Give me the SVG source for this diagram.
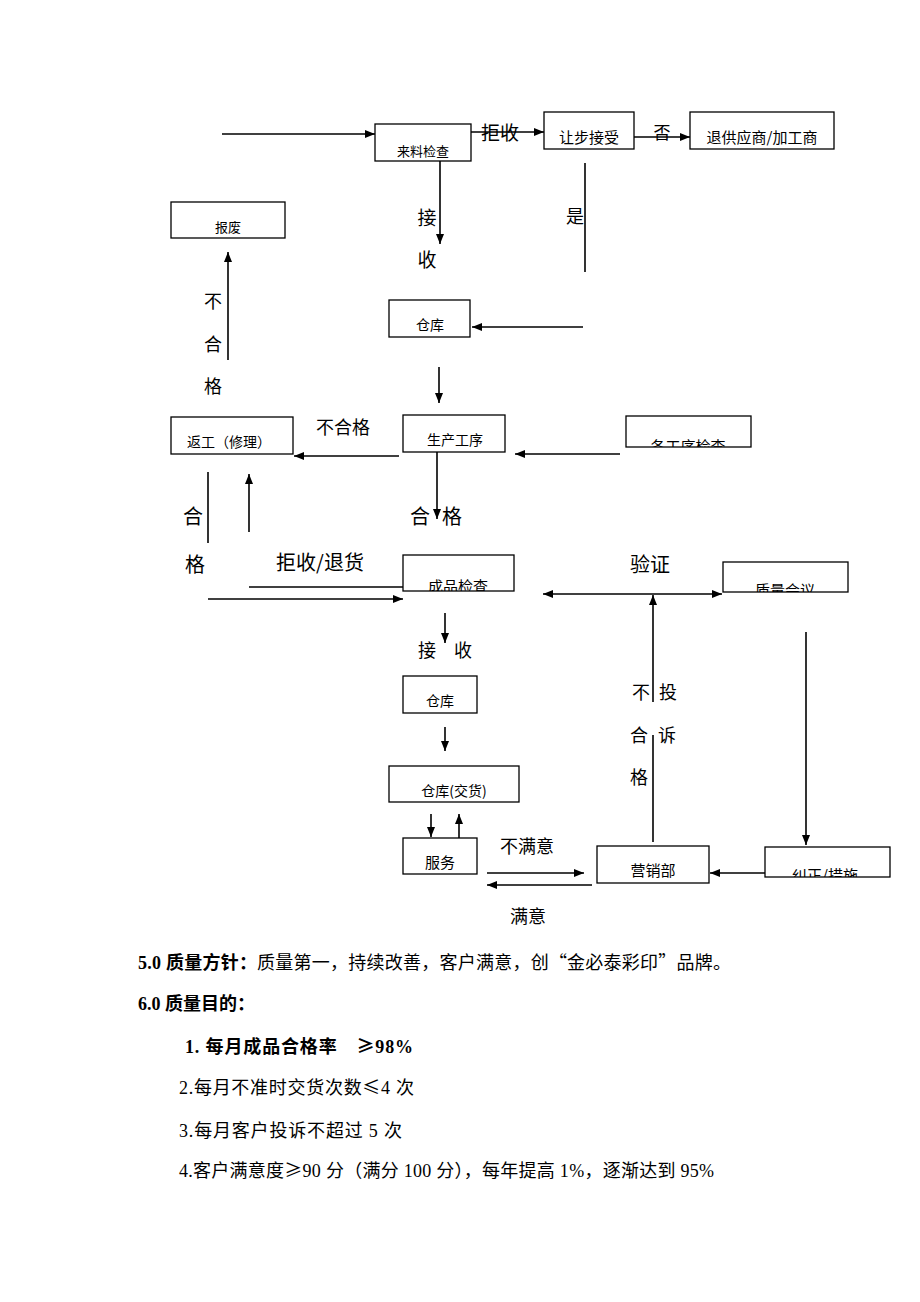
<svg xmlns="http://www.w3.org/2000/svg" width="920" height="1302" viewBox="0 0 920 1302">
<style>
.box{fill:#fff;stroke:#000;stroke-width:1.3}
.nt{font-family:"Noto Sans CJK SC",sans-serif;font-size:14px;fill:#000;text-anchor:middle}
.lb{font-family:"Noto Sans CJK SC",sans-serif;font-size:18px;fill:#000;text-anchor:middle}
.ln{stroke:#000;stroke-width:1.6;fill:none}
.ar{stroke:#000;stroke-width:1.6;fill:none;marker-end:url(#ah)}
.doc{font-family:"Liberation Serif","Noto Sans CJK SC",serif;font-size:18px;fill:#000}
.cj{font-family:"Noto Sans CJK SC",sans-serif}
.b{font-weight:bold}
</style>
<defs>
<marker id="ah" viewBox="0 0 10 8" refX="10" refY="4" markerWidth="10" markerHeight="8" markerUnits="userSpaceOnUse" orient="auto-start-reverse">
<path d="M0,0 L10,4 L0,8 z" fill="#000"/>
</marker>
<clipPath id="c7"><rect x="626" y="416" width="125" height="31"/></clipPath>
<clipPath id="c9"><rect x="403" y="555" width="111" height="36"/></clipPath>
<clipPath id="c10"><rect x="723" y="562" width="125" height="30"/></clipPath>
<clipPath id="c15"><rect x="765" y="847" width="125" height="30"/></clipPath>
</defs>
<rect width="920" height="1302" fill="#fff"/>

<g id="connectors">
<line class="ar" x1="222" y1="134" x2="375" y2="134"/>
<line class="ar" x1="471" y1="132" x2="544" y2="132"/>
<line class="ar" x1="634" y1="137" x2="690" y2="137"/>
<line class="ar" x1="440" y1="161" x2="440" y2="244"/>
<line class="ln" x1="585" y1="163" x2="585" y2="272"/>
<line class="ar" x1="583" y1="327" x2="472" y2="327"/>
<line class="ar" x1="439" y1="367" x2="439" y2="403"/>
<line class="ar" x1="620" y1="454" x2="515" y2="454"/>
<line class="ar" x1="399" y1="456" x2="294" y2="456"/>
<line class="ar" x1="228" y1="360" x2="228" y2="252"/>
<line class="ln" x1="208" y1="472" x2="208" y2="543"/>
<line class="ar" x1="249" y1="532" x2="249" y2="474"/>
<line class="ar" x1="437" y1="452" x2="437" y2="519"/>
<line class="ln" x1="249" y1="587" x2="403" y2="587"/>
<line class="ar" x1="208" y1="599" x2="403" y2="599"/>
<line class="ar" x1="632" y1="594" x2="543" y2="594"/>
<line class="ar" x1="632" y1="594" x2="722" y2="594"/>
<line class="ln" x1="653" y1="842" x2="653" y2="735"/>
<line class="ar" x1="653" y1="702" x2="653" y2="595"/>
<line class="ar" x1="806" y1="632" x2="806" y2="845"/>
<line class="ar" x1="445" y1="613" x2="445" y2="643"/>
<line class="ar" x1="445" y1="727" x2="445" y2="751"/>
<line class="ar" x1="431" y1="814" x2="431" y2="837"/>
<line class="ar" x1="459" y1="838" x2="459" y2="814"/>
<line class="ar" x1="487" y1="873" x2="584" y2="873"/>
<line class="ar" x1="592" y1="885" x2="487" y2="885"/>
<line class="ar" x1="765" y1="873" x2="710" y2="873"/>
</g>

<g id="labels">
<text class="lb" x="500" y="140" style="font-size:19px">拒收</text>
<text class="lb" x="662" y="139" style="font-size:17px">否</text>
<text class="lb" x="427" y="225" style="font-size:19px">接</text>
<text class="lb" x="427" y="267" style="font-size:19px">收</text>
<text class="lb" x="575" y="223">是</text>
<text class="lb" x="213" y="308">不</text>
<text class="lb" x="213" y="351">合</text>
<text class="lb" x="213" y="393">格</text>
<text class="lb" x="343" y="434">不合格</text>
<text class="lb" x="193" y="524" style="font-size:20px">合</text>
<text class="lb" x="195" y="572" style="font-size:20px">格</text>
<text class="lb" x="420" y="524" style="font-size:20px">合</text>
<text class="lb" x="452" y="524" style="font-size:20px">格</text>
<text class="lb" x="320" y="570" style="font-size:20px">拒收/退货</text>
<text class="lb" x="650" y="572" style="font-size:20px">验证</text>
<text class="lb" x="427" y="657">接</text>
<text class="lb" x="463" y="657">收</text>
<text class="lb" x="641" y="699">不</text>
<text class="lb" x="668" y="699">投</text>
<text class="lb" x="639" y="742">合</text>
<text class="lb" x="667" y="742">诉</text>
<text class="lb" x="639" y="784">格</text>
<text class="lb" x="527" y="853">不满意</text>
<text class="lb" x="528" y="923">满意</text>
</g>

<g id="n1"><rect class="box" x="375" y="124" width="96" height="37"/><text class="nt" x="423" y="156" style="font-size:13px">来料检查</text></g>
<g id="n2"><rect class="box" x="544" y="112" width="90" height="37"/><text class="nt" x="589" y="143" style="font-size:15px">让步接受</text></g>
<g id="n3"><rect class="box" x="690" y="112" width="144" height="37"/><text class="nt" x="762" y="143" style="font-size:15px">退供应商/加工商</text></g>
<g id="n4"><rect class="box" x="171" y="202" width="114" height="36"/><text class="nt" x="228" y="232" style="font-size:13px">报废</text></g>
<g id="n5"><rect class="box" x="389" y="300" width="81" height="37"/><text class="nt" x="430" y="330">仓库</text></g>
<g id="n6"><rect class="box" x="403" y="415" width="102" height="37"/><text class="nt" x="455" y="445">生产工序</text></g>
<g id="n7"><rect class="box" x="626" y="416" width="125" height="31"/><text class="nt" x="688" y="452" style="font-size:15px" clip-path="url(#c7)">各工序检查</text></g>
<g id="n8"><rect class="box" x="171" y="417" width="122" height="37"/><text class="nt" x="229" y="447">返工（修理）</text></g>
<g id="n9"><rect class="box" x="403" y="555" width="111" height="36"/><text class="nt" x="458" y="592" style="font-size:15px" clip-path="url(#c9)">成品检查</text></g>
<g id="n10"><rect class="box" x="723" y="562" width="125" height="30"/><text class="nt" x="785" y="596" style="font-size:15px" clip-path="url(#c10)">质量会议</text></g>
<g id="n11"><rect class="box" x="403" y="676" width="74" height="37"/><text class="nt" x="440" y="706">仓库</text></g>
<g id="n12"><rect class="box" x="389" y="766" width="130" height="36"/><text class="nt" x="454" y="796">仓库(交货)</text></g>
<g id="n13"><rect class="box" x="403" y="838" width="74" height="36"/><text class="nt" x="440" y="868" style="font-size:15px">服务</text></g>
<g id="n14"><rect class="box" x="597" y="846" width="112" height="37"/><text class="nt" x="653" y="876" style="font-size:15px">营销部</text></g>
<g id="n15"><rect class="box" x="765" y="847" width="125" height="30"/><text class="nt" x="825" y="881" style="font-size:15px" clip-path="url(#c15)">纠正/措施</text></g>

<g id="text">
<text class="doc" x="138" y="969" textLength="593" lengthAdjust="spacing"><tspan class="b">5.0 质量方针：</tspan>质量第一，持续改善，客户满意，创<tspan class="cj">“</tspan>金必泰彩印<tspan class="cj">”</tspan>品牌。</text>
<text class="doc b" x="138" y="1010">6.0 质量目的：</text>
<text class="doc b" x="185" y="1053" textLength="228" lengthAdjust="spacing">1. 每月成品合格率　<tspan class="cj">≥</tspan>98%</text>
<text class="doc" x="179" y="1094" textLength="235" lengthAdjust="spacing">2.每月不准时交货次数<tspan class="cj">≤</tspan>4 次</text>
<text class="doc" x="179" y="1137" textLength="223" lengthAdjust="spacing">3.每月客户投诉不超过 5 次</text>
<text class="doc" x="179" y="1177" textLength="535" lengthAdjust="spacing">4.客户满意度<tspan class="cj">≥</tspan>90 分（满分 100 分），每年提高 1%，逐渐达到 95%</text>
</g>
</svg>
